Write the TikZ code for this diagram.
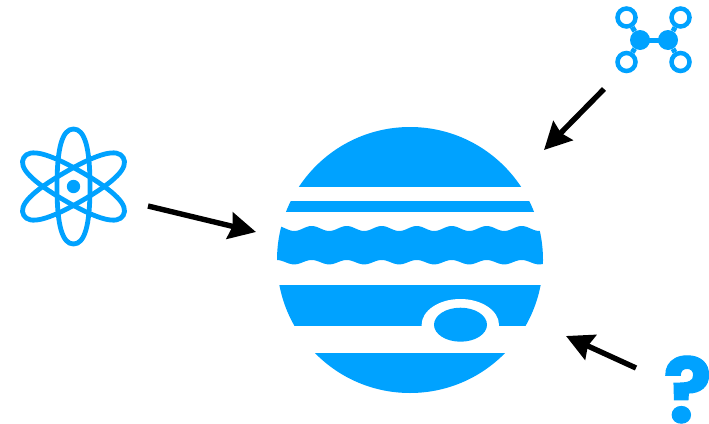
\documentclass[tikz,border=0pt]{standalone}
\usepackage{fontspec}
\setmainfont{Poppins}[FakeBold=1.2]
\usetikzlibrary{arrows.meta}
\definecolor{jup}{HTML}{00A2FF}
\tikzset{
  pointer/.style={line width=5.4pt,black,-{Triangle[length=27pt,width=27pt,inset=3pt]}},
  orbit/.style={draw=jup,line width=4.8pt},
  ringatom/.style={circle,draw=jup,line width=4.5pt,minimum size=18pt,inner sep=0pt,fill=white},
  coreatom/.style={circle,fill=jup,minimum size=20pt,inner sep=0pt},
  bondline/.style={draw=jup,line width=5pt}
}
\begin{document}
\begin{tikzpicture}[x=1pt,y=-1pt]
\useasboundingbox (0,0) rectangle (709,423);
% planet
\node[circle,minimum size=266pt,inner sep=0pt] (planet) at (410,260) {};
\begin{scope}
  \clip (410,260) circle (133);
  \fill[jup] (270,120) rectangle (550,187);
  \fill[jup] (270,200.5) rectangle (550,212);
  \fill[jup] plot[domain=270:550,samples=200] (\x,{228.5-2.5*cos((\x-311.7)/35*360)})
     -- plot[domain=550:270,samples=200] (\x,{262.2-2.2*cos((\x-311.7)/35*360)}) -- cycle;
  \fill[jup] (270,284.5) rectangle (550,326);
  \fill[jup] (270,353) rectangle (550,400);
\end{scope}
\fill[white] (460.3,325) ellipse (38.7 and 26);
\fill[white] (421.6,326) rectangle (499,345);
\fill[jup] (460.5,324.7) ellipse (26.5 and 17);
% atom
\node[circle,fill=jup,minimum size=13.4pt,inner sep=0pt] (atom) at (73.5,186.5) {};
\foreach \a in {0,60,120}{
  \begin{scope}[shift={(73.5,186.5)},rotate=\a]
    \draw[orbit] (0,-57.5) .. controls (11.2,-57.5) and (16.5,-39) .. (16.5,0)
       .. controls (16.5,39) and (11.2,57.5) .. (0,57.5)
       .. controls (-11.2,57.5) and (-16.5,39) .. (-16.5,0)
       .. controls (-16.5,-39) and (-11.2,-57.5) .. (0,-57.5) -- cycle;
  \end{scope}
}
% molecule
\draw[bondline] (640,40) -- (668,40);
\node[coreatom] (mleft) at (640,40) {};
\node[coreatom] (mright) at (668,40) {};
\node[ringatom] (tl) at (626.5,17.5) {};
\node[ringatom] (tr) at (680.5,17.5) {};
\node[ringatom] (bl) at (626.5,62) {};
\node[ringatom] (br) at (680.5,62) {};
\draw[bondline] (mleft) -- (tl);
\draw[bondline] (mleft) -- (bl);
\draw[bondline] (mright) -- (tr);
\draw[bondline] (mright) -- (br);
% question mark
\node[text=jup,inner sep=0pt,anchor=center,font=\fontsize{90}{90}\selectfont\bfseries] (question) at (687.5,389.5) {?};
% arrows
\coordinate (a1s) at (148,206);
\coordinate (a1e) at (256,232);
\coordinate (a2s) at (604,89);
\coordinate (a2e) at (544,150);
\coordinate (a3s) at (636,368);
\coordinate (a3e) at (566,336);
\draw[pointer] (a1s) -- (a1e);
\draw[pointer] (a2s) -- (a2e);
\draw[pointer] (a3s) -- (a3e);
\end{tikzpicture}
\end{document}
